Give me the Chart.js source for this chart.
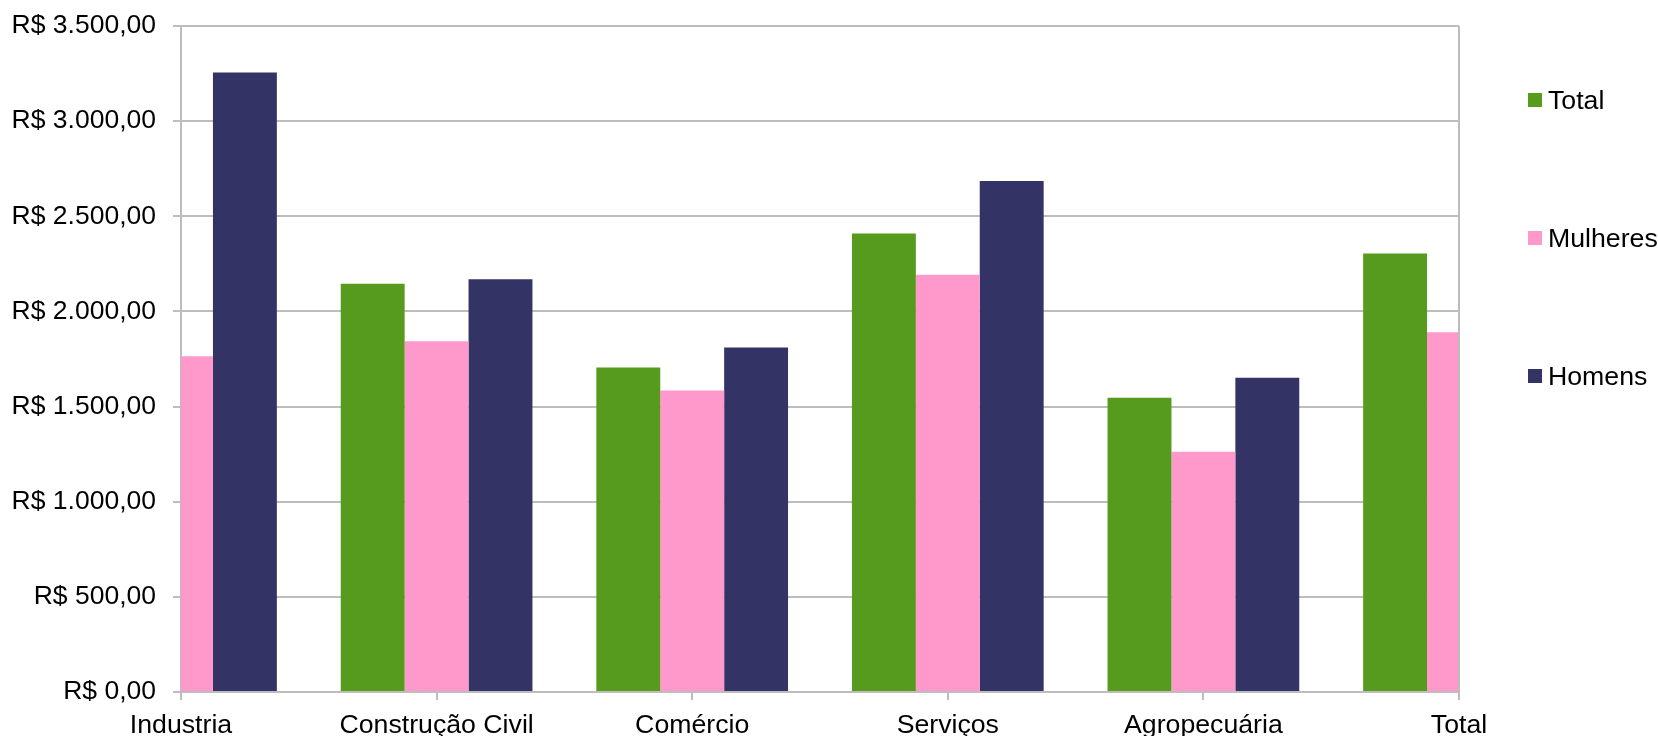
<!DOCTYPE html>
<html>
<head>
<meta charset="utf-8">
<script src="https://cdn.jsdelivr.net/npm/chart.js@4/dist/chart.umd.min.js"></script>
<style>
  html, body { margin: 0; padding: 0; background: #fff; }
  #wrap { position: relative; width: 1658px; height: 739px; }
  #legend { position: absolute; left: 1528px; top: 0; font-family: "Liberation Sans", Arial, sans-serif; font-size: 26.7px; color: #000; }
  .item { position: absolute; left: 0; white-space: nowrap; display: flex; align-items: center; }
  .box { width: 14px; height: 14px; margin-right: 6px; }
</style>
</head>
<body>
<div id="wrap">
  <canvas id="chart" width="1658" height="739"></canvas>
  <div id="legend"></div>
</div>
<script>
// categories and values (R$)
const categories = ['Industria', 'Construção Civil', 'Comércio', 'Serviços', 'Agropecuária', 'Total'];
const totalValues = [2900, 2146, 1705, 2409, 1547, 2304];
const mulheresValues = [1764, 1843, 1585, 2193, 1262, 1890];
const homensValues = [3255, 2169, 1810, 2685, 1652, 2600];

const seriesNames = ['Total', 'Mulheres', 'Homens'];
const seriesColors = ['#579b1e', '#ff99cc', '#333366'];

const FONT = '"Liberation Sans", Arial, sans-serif';
const GRID = '#bdbdbd';

function formatBRL(v) {
    let s = Math.round(v).toString().replace(/\B(?=(\d{3})+(?!\d))/g, '.');
    return 'R$ ' + s + ',00';
}

// right border of the plot area
const rightBorder = {
    id: 'rightBorder',
    afterDraw(chart) {
        const a = chart.chartArea;
        const ctx = chart.ctx;
        ctx.save();
        ctx.strokeStyle = GRID;
        ctx.lineWidth = 2;
        ctx.beginPath();
        ctx.moveTo(a.right, a.top);
        ctx.lineTo(a.right, a.bottom);
        ctx.stroke();
        ctx.restore();
    }
};

const datasets = [totalValues, mulheresValues, homensValues].map((vals, i) => ({
    label: seriesNames[i],
    data: vals,
    backgroundColor: seriesColors[i],
    borderWidth: 0,
    categoryPercentage: 0.75,
    barPercentage: 1.0,
    clip: 0
}));

new Chart(document.getElementById('chart'), {
    type: 'bar',
    data: { labels: categories, datasets: datasets },
    options: {
        responsive: false,
        animation: false,
        layout: { padding: { left: 13, right: 199, top: 26, bottom: 3 } },
        plugins: {
            legend: { display: false },
            tooltip: { enabled: false }
        },
        scales: {
            x: {
                offset: false,
                afterFit: s => { s.height = 44; },
                grid: { offset: false, drawOnChartArea: false, color: GRID, lineWidth: 2, tickLength: 8 },
                border: { color: GRID, width: 2 },
                ticks: { color: '#000', font: { family: FONT, size: 26.7 }, padding: 10, maxRotation: 0, autoSkip: false }
            },
            y: {
                min: 0,
                max: 3500,
                afterFit: s => { s.width = 168; s.paddingTop = 16; s.paddingBottom = 16; },
                grid: { color: GRID, lineWidth: 2, tickLength: 8 },
                border: { color: GRID, width: 2 },
                ticks: {
                    stepSize: 500,
                    color: '#000',
                    font: { family: FONT, size: 26.5 },
                    padding: 17,
                    callback: v => formatBRL(v)
                }
            }
        }
    },
    plugins: [rightBorder]
});

// legend, spread down the right side like the original
const legendTops = [100, 238, 376];
const legend = document.getElementById('legend');
seriesNames.forEach((name, i) => {
    const div = document.createElement('div');
    div.className = 'item';
    div.style.top = (legendTops[i] - 16) + 'px';
    div.style.height = '32px';
    div.innerHTML = '<span class="box" style="background:' + seriesColors[i] + '"></span><span>' + name + '</span>';
    legend.appendChild(div);
});
</script>
</body>
</html>
